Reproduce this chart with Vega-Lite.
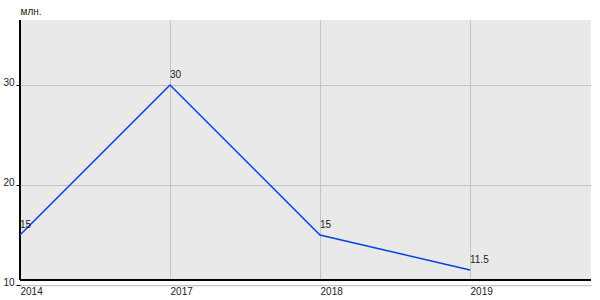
{
  "$schema": "https://vega.github.io/schema/vega-lite/v6.json",
  "autosize": "none",
  "width": 571,
  "height": 265,
  "padding": {"left": 20, "top": 20, "right": 9, "bottom": 15},
  "background": "white",
  "config": {
    "view": {"fill": "#e9e9e9", "stroke": null},
    "font": "Liberation Sans",
    "axis": {"labelFont": "Liberation Sans", "labelFontSize": 10, "labelColor": "#222222", "titleFont": "Liberation Sans"}
  },
  "data": {
    "values": [
      {"year": "2014", "value": 15},
      {"year": "2017", "value": 30},
      {"year": "2018", "value": 15},
      {"year": "2019", "value": 11.5}
    ]
  },
  "encoding": {
    "x": {
      "field": "year",
      "type": "ordinal",
      "sort": null,
      "scale": {"type": "point", "padding": 0.4033, "align": 0},
      "axis": {
        "title": null,
        "labelAngle": 0,
        "labelAlign": "left",
        "labelBaseline": "top",
        "labelPadding": 1,
        "ticks": false,
        "domainColor": "#c4c4c4",
        "domainWidth": 1.5,
        "grid": true,
        "gridColor": "#c4c4c4",
        "gridWidth": 1
      }
    },
    "y": {
      "field": "value",
      "type": "quantitative",
      "scale": {"domain": [10, 36.5], "nice": false, "zero": false},
      "axis": {
        "values": [10, 20, 30],
        "title": "млн.",
        "titleAngle": 0,
        "titleAlign": "left",
        "titleBaseline": "alphabetic",
        "titleX": 0,
        "titleY": -6,
        "titleFontSize": 10,
        "titleFontWeight": "normal",
        "titleColor": "#222222",
        "domain": false,
        "tickColor": "#000000",
        "tickSize": 4,
        "labelPadding": 2,
        "labelOffset": -3,
        "grid": true,
        "gridColor": "#c4c4c4",
        "gridWidth": 1
      }
    }
  },
  "layer": [
    {
      "mark": {"type": "rect", "color": "white"},
      "encoding": {"x": null, "y": {"datum": 10}, "y2": {"datum": 10.5}}
    },
    {
      "mark": {"type": "rule", "color": "#000000", "strokeWidth": 1.5},
      "encoding": {"x": null, "y": {"datum": 10.5}}
    },
    {
      "mark": {"type": "rule", "color": "#000000", "strokeWidth": 1.5},
      "encoding": {"x": {"datum": "2014"}, "y": {"datum": 10.5}, "y2": {"datum": 36.5}}
    },
    {"mark": {"type": "line", "color": "#0a40e0", "strokeWidth": 1.5}},
    {
      "mark": {"type": "text", "align": "left", "baseline": "alphabetic", "dy": -7, "fontSize": 10, "color": "#222222"},
      "encoding": {"text": {"field": "value", "type": "quantitative"}}
    }
  ]
}
